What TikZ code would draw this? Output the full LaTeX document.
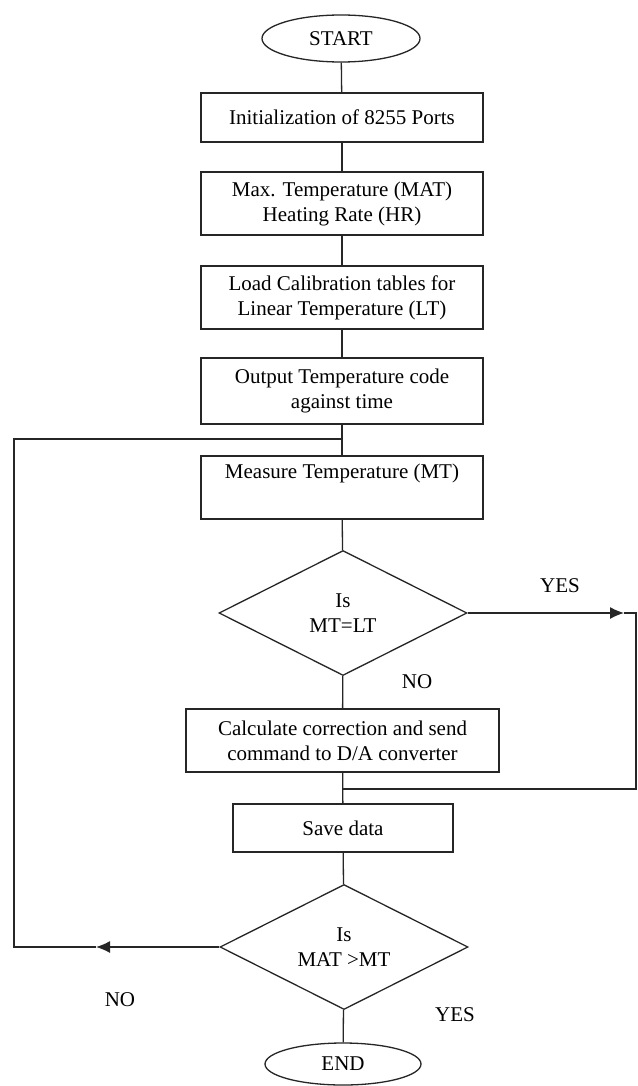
\documentclass[tikz,border=0pt]{standalone}
\usepackage{fontspec}
\setmainfont{Liberation Serif}
\usetikzlibrary{shapes.geometric,arrows.meta}
\begin{document}
\begin{tikzpicture}[x=1pt,y=-1pt,
  every node/.style={font=\fontsize{21}{25}\selectfont, text=black},
  line/.style={draw=black!85, line width=1.3pt},
  procbox/.style={line, rectangle, align=center, inner sep=0pt, minimum width=282pt},
  term/.style={line, ellipse, inner sep=0pt},
  decision/.style={line, diamond, align=center, inner sep=0pt, shape aspect=2, minimum width=248pt, minimum height=125pt},
  lbl/.style={inner sep=0pt},
  arr/.style={line, -{Latex[length=14pt,width=12pt]}}
]
\useasboundingbox (0,0) rectangle (637,1086);
\fill[white] (0,0) rectangle (637,1086);

\node[term, minimum width=158pt, minimum height=47pt] (start) at (341,38.5) {START};
\node[procbox, minimum height=49pt] (b1) at (342,117.5) {Initialization of 8255 Ports};
\node[procbox, minimum height=63pt] (b2) at (342,203.5) {Max. Temperature (MAT)\\Heating Rate (HR)};
\node[procbox, minimum height=63pt] (b3) at (342,297.5) {Load Calibration tables for\\Linear Temperature (LT)};
\node[procbox, minimum height=66pt] (b4) at (342,391) {Output Temperature code\\against time};
\node[procbox, minimum height=63pt] (b5) at (342,487.5) {Measure Temperature (MT)\\\strut};
\node[decision] (d1) at (343,613) {Is\\MT=LT};
\node[procbox, minimum width=313pt, minimum height=63pt] (b6) at (342.5,740.5) {Calculate correction and send\\command to D/A converter};
\node[procbox, minimum width=220pt, minimum height=48pt] (b7) at (343,828) {Save data};
\node[decision] (d2) at (344,947) {Is\\MAT >MT};
\node[term, minimum width=156pt, minimum height=42pt] (end) at (343,1064) {END};

\node[lbl] (yes1) at (560,586) {YES};
\node[lbl] (no1) at (417,682) {NO};
\node[lbl] (no2) at (120,1000) {NO};
\node[lbl] (yes2) at (455,1015) {YES};

\coordinate (j1) at (343,439);
\coordinate (j2) at (343,789);
\coordinate (rtip) at (624,613);
\coordinate (rtop) at (636,613);
\coordinate (rbot) at (636,789);
\coordinate (ltip) at (96,947);
\coordinate (lbot) at (14,947);
\coordinate (ltop) at (14,439);

\draw[line] (start) -- (b1);
\draw[line] (b1) -- (b2);
\draw[line] (b2) -- (b3);
\draw[line] (b3) -- (b4);
\draw[line] (b4) -- (b5);
\draw[line] (b5) -- (d1);
\draw[line] (d1) -- (b6);
\draw[line] (b6) -- (b7);
\draw[line] (b7) -- (d2);
\draw[line] (d2) -- (end);

\draw[arr] (d1.east) -- (rtip);
\draw[line] (rtip) -- (rtop) -- (rbot) -- (j2);

\draw[arr] (d2.west) -- (ltip);
\draw[line] (ltip) -- (lbot) -- (ltop) -- (j1);
\end{tikzpicture}
\end{document}
